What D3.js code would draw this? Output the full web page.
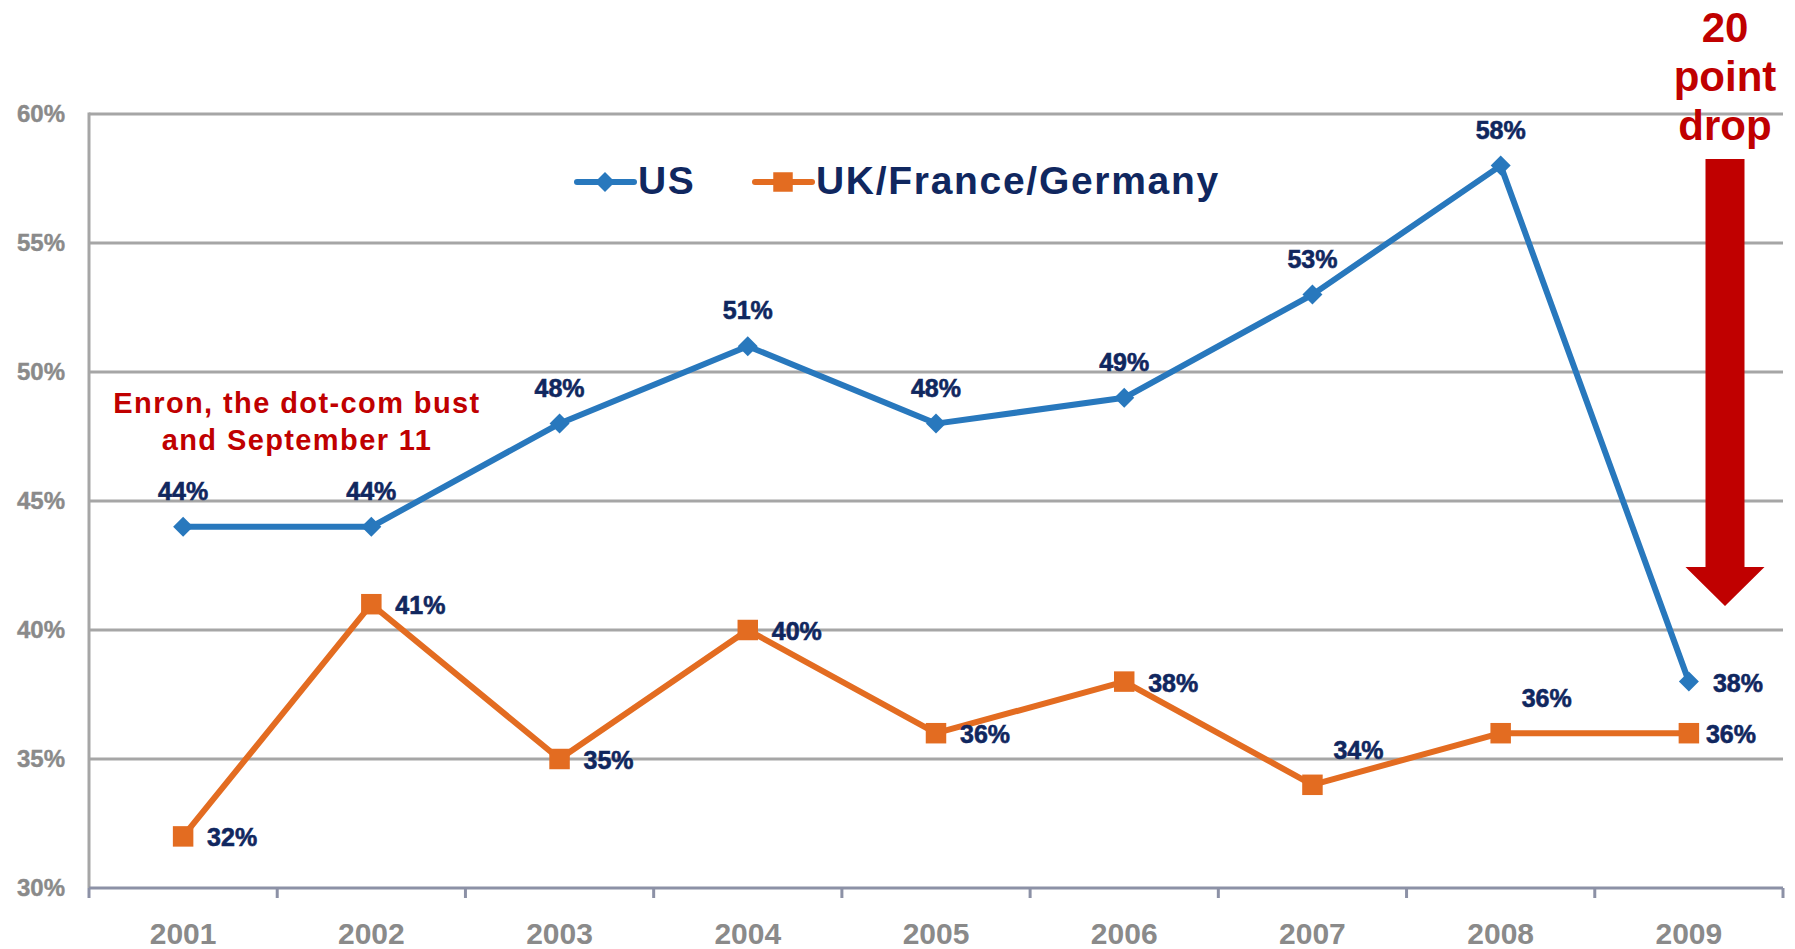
<!DOCTYPE html>
<html>
<head>
<meta charset="utf-8">
<script src="https://cdn.jsdelivr.net/npm/d3@7"></script>
<style>
  body { margin: 0; background: #fff; }
  text { font-family: "Liberation Sans", Arial, sans-serif; font-weight: bold; }
</style>
</head>
<body>
<div id="chart"></div>
<script>
const years = ['2001', '2002', '2003', '2004', '2005', '2006', '2007', '2008', '2009'];
const usValues = [44, 44, 48, 51, 48, 49, 53, 58, 38];
const ukValues = [32, 41, 35, 40, 36, 38, 34, 36, 36];
// where each value label sits relative to its point
const usLabelSide = ['top', 'top', 'top', 'top', 'top', 'top', 'top', 'top', 'right'];
const ukLabelSide = ['right', 'right', 'right', 'right', 'right', 'right', 'topright', 'topright', 'rightnear'];
const yTicks = [30, 35, 40, 45, 50, 55, 60];
const seriesNames = ['US', 'UK/France/Germany'];
const noteLines = ['Enron, the dot-com bust', 'and September 11'];
const dropLines = ['20', 'point', 'drop'];

const W = 1795, H = 949;
const pad = {l: 89, r: 12, t: 114, b: 61};
const COLORS = {us: '#2878bd', uk: '#e36c21', label: '#10275f', grid: '#a6a6a6', tick: '#8a8a8a', red: '#c00000'};
const LABEL_OFFSET = {
  top: {dx: 0, dy: -27, anchor: 'middle'},
  right: {dx: 24, dy: 10, anchor: 'start'},
  rightnear: {dx: 17, dy: 10, anchor: 'start'},
  topright: {dx: 46, dy: -26, anchor: 'middle'},
};

const svg = d3.select('#chart').append('svg')
  .attr('width', W).attr('height', H);
svg.append('rect').attr('width', W).attr('height', H).attr('fill', '#fff');

const x = d3.scaleBand().domain(years).range([pad.l, W - pad.r]);
const y = d3.scaleLinear().domain([30, 60]).range([H - pad.b, pad.t]);
const cx = d => x(d) + x.bandwidth() / 2;

// gridlines
svg.append('g').selectAll('line')
  .data(yTicks.filter(t => t > 30))
  .join('line')
  .attr('x1', pad.l).attr('x2', W - pad.r)
  .attr('y1', d => y(d)).attr('y2', d => y(d))
  .attr('stroke', COLORS.grid).attr('stroke-width', 3);

// left axis line
svg.append('line')
  .attr('x1', pad.l).attr('x2', pad.l)
  .attr('y1', y(60) - 1.5).attr('y2', y(30))
  .attr('stroke', COLORS.grid).attr('stroke-width', 3);

// y tick labels
svg.append('g').selectAll('text')
  .data(yTicks)
  .join('text')
  .attr('x', 65).attr('y', d => y(d) + 8)
  .attr('text-anchor', 'end')
  .attr('font-size', 24)
  .attr('fill', COLORS.tick)
  .attr('stroke', COLORS.tick).attr('stroke-width', 0.4)
  .text(d => d + '%');

// bottom axis with ticks between categories
const xg = svg.append('g');
xg.append('line')
  .attr('x1', pad.l).attr('x2', W - pad.r)
  .attr('y1', y(30)).attr('y2', y(30))
  .attr('stroke', '#8c91a6').attr('stroke-width', 3);
xg.selectAll('.xtick')
  .data(years.map(d => x(d)).concat([x.range()[1]]))
  .join('line')
  .classed('xtick', true)
  .attr('x1', d => d).attr('x2', d => d)
  .attr('y1', y(30)).attr('y2', y(30) + 10)
  .attr('stroke', '#8c91a6').attr('stroke-width', 3);
xg.selectAll('.xlabel')
  .data(years)
  .join('text')
  .classed('xlabel', true)
  .attr('x', cx).attr('y', 944)
  .attr('text-anchor', 'middle')
  .attr('font-size', 30)
  .attr('fill', COLORS.tick)
  .text(d => d);

const line = d3.line().x(d => cx(d.year)).y(d => y(d.v));
const toPoints = (vals, sides) => vals.map((v, i) => ({year: years[i], v, side: sides[i]}));
const usData = toPoints(usValues, usLabelSide);
const ukData = toPoints(ukValues, ukLabelSide);

const diamond = d3.symbol(d3.symbolSquare, 200);
const square = d3.symbol(d3.symbolSquare, 420);

function drawSeries(data, color, sym, rotate) {
  const g = svg.append('g');
  g.append('path')
    .attr('d', line(data))
    .attr('fill', 'none')
    .attr('stroke', color)
    .attr('stroke-width', 6)
    .attr('stroke-linejoin', 'round');
  g.selectAll('.pt')
    .data(data)
    .join('path')
    .classed('pt', true)
    .attr('d', sym())
    .attr('fill', color)
    .attr('transform', d => `translate(${cx(d.year)},${y(d.v)}) rotate(${rotate})`);
  g.selectAll('.lbl')
    .data(data)
    .join('text')
    .classed('lbl', true)
    .attr('x', d => cx(d.year) + LABEL_OFFSET[d.side].dx)
    .attr('y', d => y(d.v) + LABEL_OFFSET[d.side].dy)
    .attr('text-anchor', d => LABEL_OFFSET[d.side].anchor)
    .attr('font-size', 25)
    .attr('fill', COLORS.label)
    .attr('stroke', COLORS.label).attr('stroke-width', 0.6)
    .text(d => d.v + '%');
}

drawSeries(ukData, COLORS.uk, square, 0);
drawSeries(usData, COLORS.us, diamond, 45);

// legend
const legend = svg.append('g').attr('transform', 'translate(577,182)');
const legendItems = [
  {name: seriesNames[0], color: COLORS.us, sym: diamond, rot: 45, x: 0},
  {name: seriesNames[1], color: COLORS.uk, sym: d3.symbol(d3.symbolSquare, 380), rot: 0, x: 178},
];
legendItems.forEach(it => {
  const g = legend.append('g').attr('transform', `translate(${it.x},0)`);
  g.append('line').attr('x1', 0).attr('x2', 57)
    .attr('stroke', it.color).attr('stroke-width', 6).attr('stroke-linecap', 'round');
  g.append('path').attr('d', it.sym()).attr('fill', it.color)
    .attr('transform', `translate(28,0) rotate(${it.rot})`);
  g.append('text').attr('x', 61).attr('y', 12)
    .attr('font-size', 39)
    .attr('letter-spacing', 1.7)
    .attr('fill', COLORS.label)
    .text(it.name);
});

// annotation: Enron note
svg.append('g').selectAll('text')
  .data(noteLines)
  .join('text')
  .attr('x', 297).attr('y', (d, i) => 413 + i * 37)
  .attr('text-anchor', 'middle')
  .attr('font-size', 29)
  .attr('letter-spacing', 1.4)
  .attr('fill', COLORS.red)
  .text(d => d);

// annotation: 20 point drop
const ax = 1725;
svg.append('g').selectAll('text')
  .data(dropLines)
  .join('text')
  .attr('x', ax).attr('y', (d, i) => 42 + i * 49)
  .attr('text-anchor', 'middle')
  .attr('font-size', 42)
  .attr('fill', COLORS.red)
  .text(d => d);

const arrowTop = 159, headTop = 567, arrowTip = 606, sw = 19.5, hw = 39.5;
svg.append('path')
  .attr('d', `M${ax - sw},${arrowTop} L${ax + sw},${arrowTop} L${ax + sw},${headTop} L${ax + hw},${headTop}
              L${ax},${arrowTip} L${ax - hw},${headTop} L${ax - sw},${headTop} Z`)
  .attr('fill', COLORS.red);
</script>
</body>
</html>
